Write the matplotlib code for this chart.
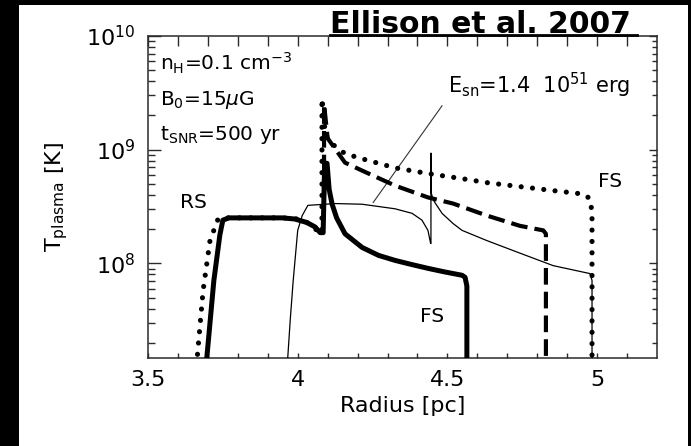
import numpy as np
import matplotlib
matplotlib.use("Agg")
import matplotlib.pyplot as plt
from matplotlib.patches import Rectangle
from matplotlib.lines import Line2D
from matplotlib.ticker import FixedLocator, FuncFormatter, LogLocator, NullFormatter

plt.rcParams['font.family'] = ['DejaVu Sans']
plt.rcParams['mathtext.fontset'] = 'dejavusans'

# ---- data (radius in pc, log10 of plasma temperature in K) ----
thick_r = [3.694, 3.72, 3.74, 3.75, 3.77, 3.85, 3.95, 3.99, 4.03, 4.058, 4.075, 4.085,
           4.09, 4.098, 4.105, 4.115, 4.13, 4.158, 4.215, 4.27, 4.325, 4.38, 4.435,
           4.49, 4.549, 4.559, 4.565, 4.565]
thick_logT = [7.10, 7.85, 8.25, 8.38, 8.40, 8.40, 8.40, 8.39, 8.36, 8.32, 8.27, 8.27,
              8.88, 8.88, 8.65, 8.52, 8.40, 8.26, 8.14, 8.07, 8.026, 7.99, 7.956,
              7.925, 7.895, 7.877, 7.80, 7.00]

dot_r = [3.662, 3.684, 3.707, 3.734, 3.76, 3.85, 3.95, 4.00, 4.03, 4.06, 4.075, 4.081,
         4.081, 4.09, 4.10, 4.158, 4.215, 4.325, 4.435, 4.549, 4.632, 4.742, 4.853,
         4.953, 4.976, 4.983, 4.983]
dot_logT = [7.10, 7.76, 8.20, 8.39, 8.40, 8.40, 8.40, 8.39, 8.36, 8.30, 8.26, 8.27,
            9.45, 9.20, 9.08, 8.965, 8.92, 8.84, 8.79, 8.745, 8.71, 8.675, 8.64,
            8.61, 8.57, 8.45, 7.00]

dash_r = [4.088, 4.088, 4.10, 4.158, 4.215, 4.325, 4.435, 4.519, 4.632, 4.742, 4.82,
          4.829, 4.829]
dash_logT = [8.60, 9.40, 9.10, 8.886, 8.816, 8.684, 8.58, 8.526, 8.42, 8.33, 8.29,
             8.26, 7.00]

thin_r = [3.965, 3.975, 3.985, 4.00, 4.015, 4.034, 4.125, 4.215, 4.325, 4.382, 4.415,
          4.435, 4.444, 4.445, 4.445, 4.446, 4.452, 4.482, 4.519, 4.549, 4.632, 4.742,
          4.853, 4.976, 4.983, 4.983]
thin_logT = [7.10, 7.50, 7.85, 8.29, 8.42, 8.51, 8.526, 8.52, 8.48, 8.44, 8.38,
             8.29, 8.175, 8.175, 8.97, 8.62, 8.56, 8.44, 8.35, 8.29, 8.20, 8.09,
             7.98, 7.91, 7.85, 7.00]

annot_r = [4.252, 4.482]
annot_logT = [8.535, 9.386]

x_major = [3.5, 4.0, 4.5, 5.0]
x_minor = [3.6, 3.7, 3.8, 3.9, 4.1, 4.2, 4.3, 4.4, 4.6, 4.7, 4.8, 4.9, 5.1]

W, H = 691, 446
fig = plt.figure(figsize=(W / 100, H / 100), dpi=100, facecolor='white')

# black frame strips
for (x0, y0, w, h) in [(0, 0, 19, H), (0, H - 5, W, 5), (688, 0, 3, H)]:
    fig.add_artist(Rectangle((x0 / W, y0 / H), w / W, h / H, transform=fig.transFigure,
                             facecolor='black', edgecolor='none', zorder=0))

ax_l, ax_r, ax_t, ax_b = 148, 657, 36, 358
ax = fig.add_axes([ax_l / W, 1 - ax_b / H, (ax_r - ax_l) / W, (ax_b - ax_t) / H])
ax.set_yscale('log')
ax.set_xlim(3.5, 5.2)
ax.set_ylim(1.47e7, 1.0e10)

def T(v):
    return 10 ** np.asarray(v)

ax.plot(thin_r, T(thin_logT), color='black', lw=0.9, zorder=3)
ax.plot(dash_r, T(dash_logT), color='black', lw=3.0, linestyle=(0, (4.0, 1.7)),
        dash_capstyle='butt', zorder=4)
ax.plot(dot_r, T(dot_logT), color='black', lw=3.7, linestyle=(0, (0.01, 2.2)),
        dash_capstyle='round', zorder=5)
ax.plot(thick_r, T(thick_logT), color='black', lw=3.6, solid_joinstyle='round', zorder=6)
ax.plot(annot_r, T(annot_logT), color='#333333', lw=0.8, zorder=3)

# ticks
spine_c = '#2a2a2a'
for s in ax.spines.values():
    s.set_color(spine_c)
    s.set_linewidth(1.1)
ax.xaxis.set_major_locator(FixedLocator(x_major))
ax.xaxis.set_minor_locator(FixedLocator(x_minor))
ax.xaxis.set_major_formatter(FuncFormatter(lambda v, p: f"{v:g}"))
ax.yaxis.set_major_locator(LogLocator(base=10, numticks=10))
ax.yaxis.set_minor_locator(LogLocator(base=10, subs=np.arange(2, 10), numticks=20))
ax.yaxis.set_minor_formatter(NullFormatter())
ax.tick_params(axis='x', which='both', direction='in', length=3.6, width=1.0,
               color=spine_c, labelsize=16, pad=9, top=False)
ax.tick_params(axis='y', which='major', direction='in', length=9.4, width=1.0,
               color=spine_c, labelsize=16, pad=9, right=False)
ax.tick_params(axis='y', which='minor', direction='in', length=5.0, width=1.0,
               color=spine_c, right=False)

sx = ax.secondary_xaxis('top')
sx.xaxis.set_major_locator(FixedLocator(x_major + x_minor))
sx.tick_params(axis='x', which='both', direction='in', length=7.2, width=1.0,
               color=spine_c, labeltop=False)
sy = ax.secondary_yaxis('right')
sy.set_yscale('log')
sy.yaxis.set_major_locator(LogLocator(base=10, numticks=10))
sy.yaxis.set_minor_locator(LogLocator(base=10, subs=np.arange(2, 10), numticks=20))
sy.yaxis.set_minor_formatter(NullFormatter())
sy.tick_params(axis='y', which='major', direction='in', length=6, width=1.0,
               color=spine_c, labelright=False)
sy.tick_params(axis='y', which='minor', direction='in', length=3.8, width=1.0,
               color=spine_c, labelright=False)
for a in (sx, sy):
    for s in a.spines.values():
        s.set_visible(False)

ax.set_xlabel('Radius [pc]', fontsize=16, labelpad=4)
ax.set_ylabel(r'T$_{\rm plasma}$ [K]', fontsize=16, labelpad=12)

tfs = 14.5
ax.text(0.024, 0.894, r'n$_{\rm H}$=0.1 cm$^{-3}$', transform=ax.transAxes, fontsize=tfs,
        va='baseline', ha='left')
ax.text(0.024, 0.786, r'B$_0$=15$\mu$G', transform=ax.transAxes, fontsize=tfs,
        va='baseline', ha='left')
ax.text(0.024, 0.677, r't$_{\rm SNR}$=500 yr', transform=ax.transAxes, fontsize=tfs,
        va='baseline', ha='left')
ax.text(0.589, 0.823, r'E$_{\rm sn}$=1.4  10$^{51}$ erg', transform=ax.transAxes,
        fontsize=15, va='baseline', ha='left')
ax.text(0.063, 0.466, 'RS', transform=ax.transAxes, fontsize=14.5, va='baseline', ha='left')
ax.text(0.884, 0.531, 'FS', transform=ax.transAxes, fontsize=14.5, va='baseline', ha='left')
ax.text(0.534, 0.112, 'FS', transform=ax.transAxes, fontsize=14.5, va='baseline', ha='left')

# title with underline
fig.text(330 / W, 1 - 33 / H, 'Ellison et al. 2007', fontsize=21.5, fontweight='bold',
         ha='left', va='baseline', color='black')
fig.add_artist(Line2D([330 / W, 637 / W], [1 - 34.5 / H, 1 - 34.5 / H],
                      transform=fig.transFigure, color='black', lw=2.0, zorder=10))

fig.savefig('out.png', dpi=100, facecolor='white')
